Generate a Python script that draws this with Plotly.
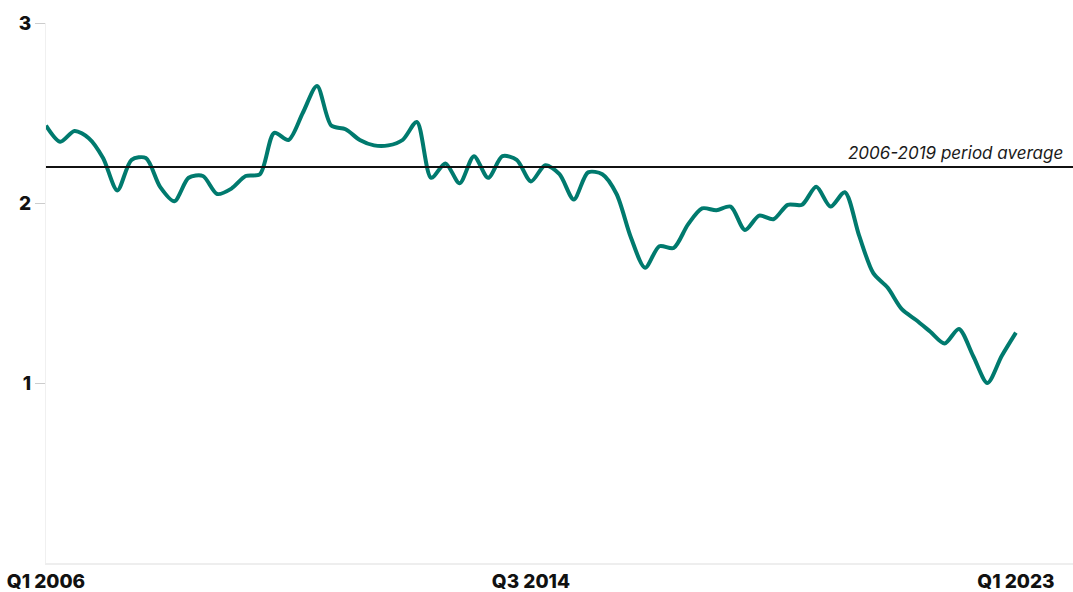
import plotly.graph_objects as go

# Quarterly values, Q1 2006 .. Q1 2023 (69 quarters)
values = [
    2.43, 2.34, 2.40, 2.36, 2.25, 2.07, 2.24, 2.25, 2.09, 2.01,
    2.14, 2.15, 2.05, 2.08, 2.15, 2.16, 2.39, 2.35, 2.50, 2.65,
    2.43, 2.41, 2.35, 2.32, 2.32, 2.35, 2.45, 2.14, 2.22, 2.11,
    2.26, 2.14, 2.26, 2.24, 2.12, 2.21, 2.16, 2.02, 2.17, 2.16,
    2.05, 1.81, 1.64, 1.76, 1.75, 1.88, 1.97, 1.96, 1.98, 1.85,
    1.93, 1.91, 1.99, 1.99, 2.09, 1.98, 2.06, 1.82, 1.61, 1.53,
    1.41, 1.35, 1.285, 1.22, 1.30, 1.15, 1.00, 1.15, 1.28,
]
quarter_index = list(range(len(values)))
x_tick_positions = [0, 34, 68]
x_tick_labels = ["Q1 2006", "Q3 2014", "Q1 2023"]
y_tick_values = [1, 2, 3]
period_average = 2.2
average_label = "2006-2019 period average"

fig = go.Figure()
fig.add_trace(go.Scatter(
    x=quarter_index, y=values, mode="lines",
    line=dict(color="#007A6E", width=4, shape="spline", smoothing=0.8),
    hoverinfo="skip", showlegend=False,
))

fig.add_shape(type="line", xref="paper", x0=0, x1=1, yref="y",
              y0=period_average, y1=period_average,
              line=dict(color="#111111", width=2))
fig.add_annotation(xref="paper", x=0.992, xanchor="right",
                   yref="y", y=period_average, yanchor="bottom", yshift=2,
                   text="<i>" + average_label + "</i>", showarrow=False,
                   font=dict(family="Inter", size=17, color="#1a1a1a", weight=400))

tick_font = dict(family="Inter", size=19, color="#111111", weight=800)

fig.update_layout(
    width=1073, height=592,
    margin=dict(l=46, r=0, t=23, b=29),
    paper_bgcolor="white", plot_bgcolor="white",
    xaxis=dict(range=[0, 72], tickvals=x_tick_positions, ticktext=x_tick_labels,
               showgrid=False, zeroline=False, showline=True,
               linecolor="#eeeeee", linewidth=2, ticks="",
               tickfont=tick_font),
    yaxis=dict(range=[0, 3], tickvals=y_tick_values, showgrid=False, zeroline=False,
               showline=True, linecolor="#f0f0f0", linewidth=1,
               ticks="outside", ticklen=10, tickcolor="#cccccc", tickwidth=1,
               tickfont=tick_font),
)

fig.write_html("out.html")
